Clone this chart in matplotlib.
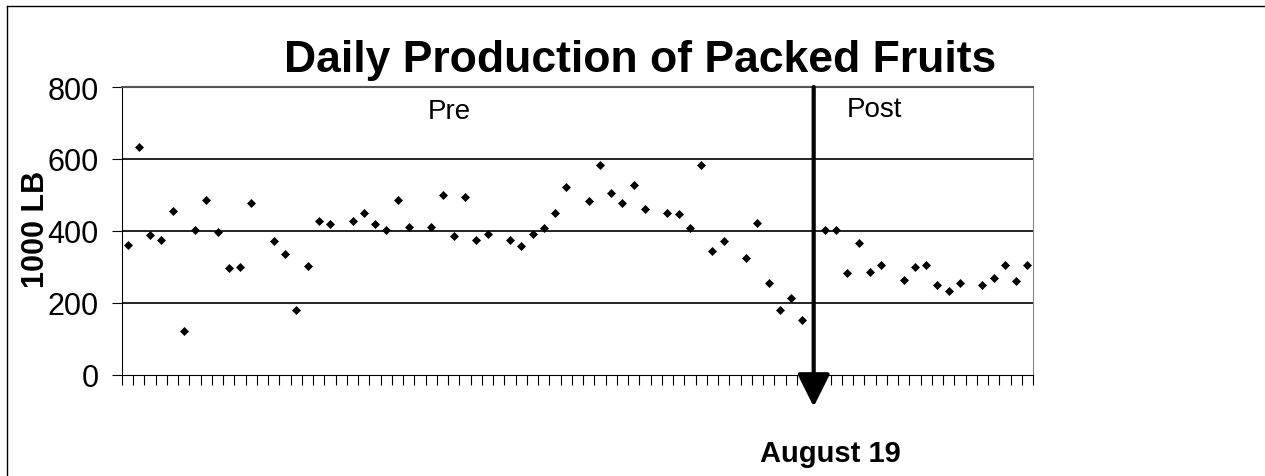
import matplotlib
matplotlib.use("Agg")
import matplotlib.pyplot as plt
from matplotlib.lines import Line2D
import numpy as np

plt.rcParams["font.family"] = ["Liberation Sans", "DejaVu Sans"]

# day index (weekdays only; Sundays have no production) and output in 1000 LB
days = [0, 1, 2, 3, 4, 5, 6, 7, 8, 9, 10, 11,
        13, 14, 15, 16, 17, 18,
        20, 21, 22, 23, 24, 25,
        27, 28, 29, 30, 31, 32,
        34, 35, 36, 37, 38, 39,
        41, 42, 43, 44, 45, 46,
        48, 49, 50, 51, 52, 53,
        55, 56, 57, 58, 59, 60,
        62, 63, 64, 65, 66, 67,
        69, 70, 71, 72, 73, 74,
        76, 77, 78, 79, 80]
production = [360, 632, 389, 375, 455, 123, 402, 486, 398, 296, 300, 477,
              371, 336, 180, 304, 429, 420,
              429, 451, 420, 402, 486, 411,
              411, 500, 385, 495, 375, 393,
              375, 358, 393, 407, 451, 522,
              482, 584, 505, 478, 527, 460,
              451, 446, 407, 584, 345, 372,
              326, 421, 256, 180, 215, 153,
              402, 402, 283, 367, 287, 305,
              265, 300, 305, 251, 234, 256,
              251, 269, 305, 261, 305]
n_days = 81
change_day = 61  # August 19
y_ticks = [0, 200, 400, 600, 800]

fig = plt.figure(figsize=(12.65, 4.77), dpi=100)
ax = fig.add_axes([122 / 1265, 1 - 376 / 477, 911 / 1265, 288 / 477])

ax.plot(days, production, "D", color="black", ms=3.6, mew=0.5, zorder=3,
        clip_on=False)

ax.set_xlim(-0.5, n_days - 0.5)
ax.set_ylim(0, 800)
ax.set_yticks(y_ticks)
ax.set_xticks(np.arange(n_days + 1) - 0.5)
ax.set_xticklabels([])
ax.tick_params(axis="x", direction="out", length=7, width=0.8)
ax.tick_params(axis="y", direction="out", length=7, width=0.8,
               labelsize=22, pad=10)

for v in y_ticks[1:]:
    ax.axhline(v, color="#111111", lw=1.3, zorder=1)

ax.spines["left"].set_color("black")
ax.spines["bottom"].set_color("black")
ax.spines["top"].set_color("#555555")
ax.spines["top"].set_linewidth(1.5)
ax.spines["right"].set_color("#888888")

ax.text(-0.094, 0.51, "1000 LB", rotation=90, ha="center", va="center",
        fontsize=22, fontweight="bold", transform=ax.transAxes)

ax.text(28.6, 733, "Pre", ha="center", va="center", fontsize=20)
ax.text(66.4, 739, "Post", ha="center", va="center", fontsize=20)

ax.annotate("", xy=(change_day, -88), xytext=(change_day, 800),
            arrowprops=dict(arrowstyle="-|>,head_width=0.5,head_length=1.0",
                            mutation_scale=20, color="black", lw=3,
                            shrinkA=0, shrinkB=0),
            annotation_clip=False, zorder=4)
ax.text(62.45, -238, "August 19", ha="center", va="baseline", fontsize=21,
        fontweight="bold", clip_on=False)

fig.text(640 / 1265, 1 - 72 / 477, "Daily Production of Packed Fruits",
         ha="center", va="baseline", fontsize=32, fontweight="bold")

# outer frame (open to the right and bottom edges)
fig.add_artist(Line2D([7 / 1265, 7 / 1265], [0, 1 - 7 / 477],
                      transform=fig.transFigure, color="black", lw=1))
fig.add_artist(Line2D([7 / 1265, 1], [1 - 7 / 477, 1 - 7 / 477],
                      transform=fig.transFigure, color="black", lw=1))

fig.savefig("out.png", dpi=100)
